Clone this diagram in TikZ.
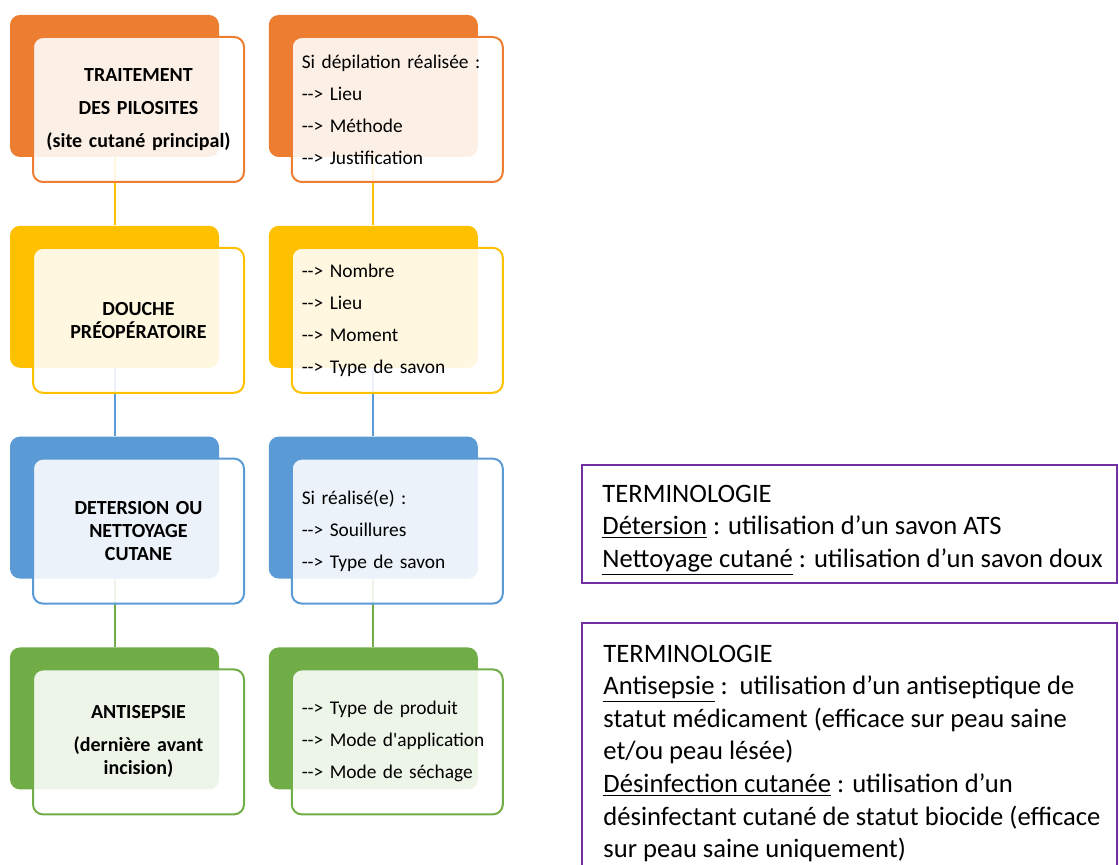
\documentclass[tikz,border=0pt]{standalone}
\usepackage{fontspec}
\setmainfont{Carlito}
\usetikzlibrary{positioning}

\definecolor{cOrange}{HTML}{ED7D31}
\definecolor{cYellow}{HTML}{FFC000}
\definecolor{cBlue}{HTML}{5B9BD5}
\definecolor{cGreen}{HTML}{70AD47}
\definecolor{cPurple}{HTML}{7030A0}

\newcommand{\arr}{-{}-> }

\begin{document}
\begin{tikzpicture}[x=0.5pt, y=-0.5pt,
	back/.style={rectangle, rounded corners=5pt, fill=#1, minimum width=104.5pt, minimum height=71pt, inner sep=0pt},
	front/.style={rectangle, rounded corners=5pt, draw=#1, line width=1pt, fill=white, fill opacity=0.88, text opacity=1, minimum width=105.5pt, minimum height=72.5pt, inner sep=0pt},
	title/.style={font=\fontsize{10}{11.5}\selectfont\bfseries, align=center, text width=95pt},
	items/.style={font=\fontsize{9.7}{16}\selectfont, align=left, text width=95.5pt},
	link/.style={draw=#1, line width=1pt},
	termbox/.style={draw=cPurple, line width=1pt, minimum width=267.5pt, inner sep=0pt},
	termtext/.style={font=\fontsize{13.3}{16.3}\selectfont, align=left, inner sep=0pt, anchor=west}]
	 \clip (0,0) rectangle (1119,865);
	 % back blocks
	 \node [back=cOrange] (b1) at (114.5,86) {};
	 \node [back=cOrange, right=24.5pt of b1] (c1) {};
	 \node [back=cYellow, below=34pt of b1] (b2) {};
	 \node [back=cYellow, right=24.5pt of b2] (c2) {};
	 \node [back=cBlue, below=34pt of b2] (b3) {};
	 \node [back=cBlue, right=24.5pt of b3] (c3) {};
	 \node [back=cGreen, below=34pt of b3] (b4) {};
	 \node [back=cGreen, right=24.5pt of b4] (c4) {};
	 % links
	 \draw [link=cYellow] (b1.south) -- (b2.north);
	 \draw [link=cYellow] (c1.south) -- (c2.north);
	 \draw [link=cBlue] (b2.south) -- (b3.north);
	 \draw [link=cBlue] (c2.south) -- (c3.north);
	 \draw [link=cGreen] (b3.south) -- (b4.north);
	 \draw [link=cGreen] (c3.south) -- (c4.north);
	 % front boxes
	 \node [front=cOrange, title] (t1) at ([xshift=12pt, yshift=-11.75pt]b1.center) {TRAITEMENT\\[5pt]DES PILOSITES\\[5pt](site cutané principal)};
	 \node [front=cOrange, items] (d1) at ([xshift=12pt, yshift=-11.75pt]c1.center) {Si dépilation réalisée :\\\arr Lieu\\\arr Méthode\\\arr Justification};
	 \node [front=cYellow, title] (t2) at ([xshift=12pt, yshift=-11.75pt]b2.center) {DOUCHE\\PRÉOPÉRATOIRE};
	 \node [front=cYellow, items] (d2) at ([xshift=12pt, yshift=-11.75pt]c2.center) {\arr Nombre\\\arr Lieu\\\arr Moment\\\arr Type de savon};
	 \node [front=cBlue, title] (t3) at ([xshift=12pt, yshift=-11.75pt]b3.center) {DETERSION OU\\NETTOYAGE\\CUTANE};
	 \node [front=cBlue, items] (d3) at ([xshift=12pt, yshift=-11.75pt]c3.center) {Si réalisé(e) :\\\arr Souillures\\\arr Type de savon};
	 \node [front=cGreen, title] (t4) at ([xshift=12pt, yshift=-11.75pt]b4.center) {ANTISEPSIE\\[5pt](dernière avant\\incision)};
	 \node [front=cGreen, items] (d4) at ([xshift=12pt, yshift=-11.75pt]c4.center) {\arr Type de produit\\\arr Mode d\textquotesingle application\\\arr Mode de séchage};
	 % terminology
	 \node [termbox, minimum height=59pt] (term1) at (849.5,524) {};
	 \node [termtext] (term1txt) at ([xshift=10.5pt, yshift=-3.25pt]term1.west) {TERMINOLOGIE\\\underline{Détersion} : utilisation d’un savon ATS\\\underline{Nettoyage cutané} : utilisation d’un savon doux};
	 \node [termbox, minimum height=131pt] (term2) at (849.5,754) {};
	 \node [termtext] (term2txt) at (603,753.5) {TERMINOLOGIE\\\underline{Antisepsie} :\ \ utilisation d’un antiseptique de\\statut médicament (efficace sur peau saine\\et/ou peau lésée)\\\underline{Désinfection cutanée} : utilisation d’un\\désinfectant cutané de statut biocide (efficace\\sur peau saine uniquement)};
\end{tikzpicture}
\end{document}
